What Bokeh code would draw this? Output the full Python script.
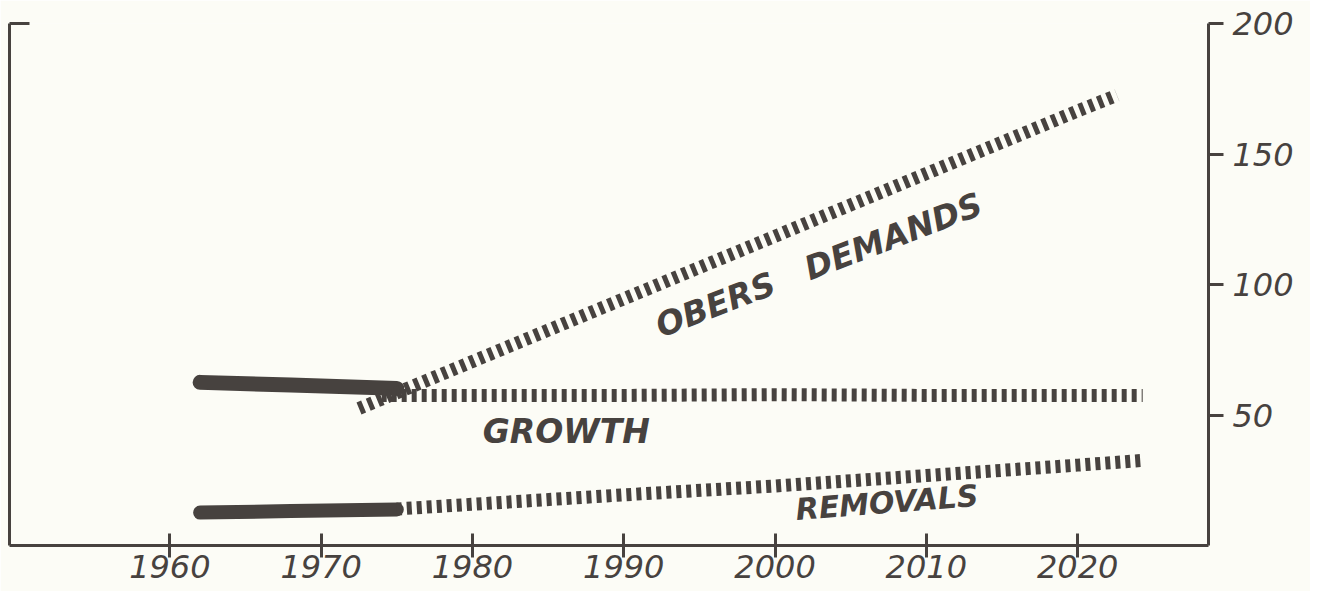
from bokeh.plotting import figure
from bokeh.models import Range1d, LinearAxis, FixedTicker, ColumnDataSource
from bokeh.core.properties import value
from bokeh.embed import file_html
from bokeh.resources import INLINE

# ---- data ----
hist_years = [1962, 1968, 1975]
growth_hist = [62.5, 61.5, 60.2]
removals_hist = [12.6, 13.2, 13.8]

growth_proj_years = [1974, 1990, 2000, 2010, 2024.3]
growth_proj = [57.5, 57.5, 57.8, 57.5, 57.5]

removals_proj_years = [1975, 1980, 1990, 2000, 2010, 2020, 2024.3]
removals_proj = [14.0, 15.8, 19.4, 22.8, 26.8, 30.8, 32.6]

obers_years = [1972.5, 1980, 1990, 2000, 2010, 2020, 2022.6]
obers_demands = [52.5, 70.5, 94.5, 118.5, 142.5, 166.5, 172.5]

x_ticks = [1960, 1970, 1980, 1990, 2000, 2010, 2020]
y_ticks = [50, 100, 150, 200]

label_text = ["OBERS\u00a0\u00a0\u00a0DEMANDS", "GROWTH", "REMOVALS"]
label_x = [2002.9, 1986.2, 2007.4]
label_y = [107.5, 43.5, 16.5]
label_angle = [21.0, 0.0, 4.5]
label_size = ["33px", "33px", "30px"]

INK = "#47423f"
PAPER = "#fcfcf6"
FONT = "DejaVu Sans"

p = figure(width=1310, height=591, output_backend="svg", toolbar_location=None,
           x_range=Range1d(1949.4, 2028.65), y_range=Range1d(0, 200),
           y_axis_location="right", min_border_left=9, min_border_right=102,
           min_border_top=23, min_border_bottom=46)
p.background_fill_color = PAPER
p.border_fill_color = PAPER
p.outline_line_color = None
p.grid.visible = False

# bottom axis
xa = p.xaxis[0]
xa.ticker = FixedTicker(ticks=x_ticks)
xa.minor_tick_line_color = None
xa.major_tick_in = 12
xa.major_tick_out = 12
xa.major_tick_line_width = 3
xa.major_tick_line_color = INK
xa.axis_line_width = 3
xa.axis_line_color = INK
xa.major_label_standoff = -3
xa.major_label_text_font = FONT
xa.major_label_text_font_style = "italic"
xa.major_label_text_font_size = "32px"
xa.major_label_text_color = INK

# right axis
ya = p.yaxis[0]
ya.ticker = FixedTicker(ticks=y_ticks)
ya.minor_tick_line_color = None
ya.major_tick_in = 0
ya.major_tick_out = 15
ya.major_tick_line_width = 3
ya.major_tick_line_color = INK
ya.axis_line_width = 3
ya.axis_line_color = INK
ya.major_label_standoff = 9
ya.major_label_text_font = FONT
ya.major_label_text_font_style = "italic"
ya.major_label_text_font_size = "32px"
ya.major_label_text_color = INK

# left axis: bare line with a stub at the top
la = LinearAxis(ticker=FixedTicker(ticks=[200]), major_tick_in=20, major_tick_out=0,
                major_tick_line_width=3, major_tick_line_color=INK,
                minor_tick_line_color=None, axis_line_width=3, axis_line_color=INK,
                major_label_text_font_size="0px", major_label_standoff=0,
                major_label_overrides={200: ""})
p.add_layout(la, "left")

# historical (solid)
p.line(hist_years, growth_hist, line_width=15, line_color=INK, line_cap="round")
p.line(hist_years, removals_hist, line_width=14, line_color=INK, line_cap="round")

# projections (hatched)
for xs, ys in [(obers_years, obers_demands), (growth_proj_years, growth_proj),
               (removals_proj_years, removals_proj)]:
    p.line(xs, ys, line_width=13, line_color=INK, line_dash="5 5", line_cap="butt")

src = ColumnDataSource(dict(x=label_x, y=label_y, t=label_text, a=label_angle, s=label_size))
p.text(x="x", y="y", text="t", angle="a", angle_units="deg", source=src,
       text_font=value(FONT), text_font_style="bold italic", text_font_size="s",
       text_color=INK, text_align="center", text_baseline="middle")

open("out.html", "w").write(file_html(p, INLINE))
